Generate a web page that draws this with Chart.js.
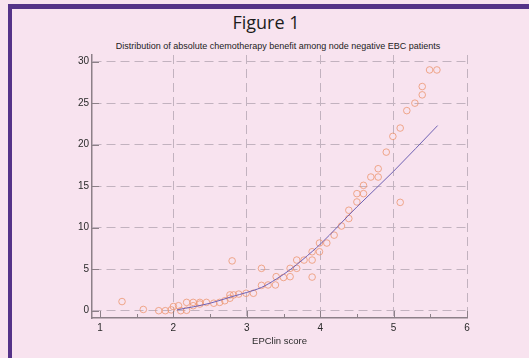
<!DOCTYPE html>
<html>
<head>
<meta charset="utf-8">
<script src="https://cdn.jsdelivr.net/npm/chart.js@4"></script>
<style>
    html, body {
        margin: 0;
        padding: 0;
        background: #f8e3ef;
        width: 529px;
        height: 358px;
        overflow: hidden;
    }
    #frame {
        position: absolute;
        left: 8px;
        top: 4px;
        right: 0;
        bottom: 0;
        border-top: 5px solid #553388;
        border-left: 4px solid #553388;
    }
    #titulo {
        position: absolute;
        left: 166px;
        width: 200px;
        top: 10px;
        text-align: center;
        font: 18px "Open Sans", sans-serif;
        color: #1c1c1c;
    }
    #subtitulo {
        position: absolute;
        left: 78px;
        width: 400px;
        top: 41px;
        text-align: center;
        font: 9px "Liberation Sans", Arial, sans-serif;
        color: #1c1c1c;
    }
    #grafico {
        position: absolute;
        left: 0;
        top: 0;
    }
</style>
</head>
<body>
<div id="frame"></div>
<div id="titulo">Figure 1</div>
<div id="subtitulo">Distribution of absolute chemotherapy benefit among node negative EBC patients</div>
<canvas id="grafico" width="529" height="358"></canvas>
<script>
// pontos observados (EPClin score, beneficio absoluto)
const pontosX = [1.30, 1.59, 1.80, 1.89, 1.97, 2.00, 2.07, 2.10, 2.18, 2.18, 2.27, 2.27, 2.36, 2.36, 2.45, 2.55, 2.63, 2.70, 2.77, 2.80, 2.77, 2.82, 2.89, 2.99, 3.09, 3.20, 3.20, 3.29, 3.39, 3.40, 3.50, 3.59, 3.59, 3.68, 3.68, 3.78, 3.89, 3.89, 3.89, 3.99, 3.99, 4.09, 4.19, 4.29, 4.39, 4.39, 4.50, 4.50, 4.59, 4.59, 4.69, 4.79, 4.79, 4.90, 4.99, 5.09, 5.09, 5.18, 5.29, 5.39, 5.39, 5.49, 5.59]
const pontosY = [1.1, 0.15, 0.0, 0.0, 0.1, 0.5, 0.6, 0.0, 0.05, 1.0, 0.6, 1.0, 0.8, 1.0, 1.0, 0.9, 1.0, 1.2, 1.5, 6.0, 1.9, 1.9, 2.0, 2.1, 2.1, 3.05, 5.1, 3.1, 3.1, 4.1, 4.0, 4.1, 5.1, 5.1, 6.1, 6.1, 6.1, 4.05, 7.1, 7.1, 8.15, 8.15, 9.1, 10.2, 11.1, 12.1, 13.1, 14.1, 14.1, 15.1, 16.1, 16.1, 17.1, 19.1, 21.0, 22.0, 13.05, 24.1, 25.0, 26.0, 27.0, 29.0, 29.0]

// curva ajustada
const curvaX = [2.05, 2.5, 2.8, 3.0, 3.2, 3.4, 3.6, 3.9, 4.0, 4.5, 5.0, 5.6]
const curvaY = [0.1, 0.9, 1.7, 2.2, 2.8, 3.8, 5.0, 7.2, 8.0, 12.5, 16.8, 22.3]

const ticksX = [1, 2, 3, 4, 5, 6]
const ticksY = [0, 5, 10, 15, 20, 25, 30]

const corEixo = '#8c8088'
const corGrade = '#c2b2bf'
const fonte = { family: '"Liberation Sans", Arial, sans-serif', size: 10 }

// marcas dos eixos para dentro da area do grafico
const marcasInternas = {
    id: 'marcasInternas',
    afterDraw(chart) {
        const { ctx, chartArea, scales } = chart
        ctx.save()
        ctx.strokeStyle = corEixo
        ctx.lineWidth = 1
        ctx.beginPath()
        ticksX.forEach(v => {
            const px = Math.round(scales.x.getPixelForValue(v)) + 0.5
            ctx.moveTo(px, chartArea.bottom)
            ctx.lineTo(px, chartArea.bottom - 7)
            if (v < 6) {
                const pm = Math.round(scales.x.getPixelForValue(v + 0.5)) + 0.5
                ctx.moveTo(pm, chartArea.bottom)
                ctx.lineTo(pm, chartArea.bottom - 4)
            }
        })
        ticksY.forEach(v => {
            const py = Math.round(scales.y.getPixelForValue(v)) + 0.5
            ctx.moveTo(chartArea.left, py)
            ctx.lineTo(chartArea.left + 7, py)
        })
        ctx.stroke()
        ctx.restore()
    }
}

new Chart(document.getElementById('grafico'), {
    type: 'scatter',
    data: {
        datasets: [{
            label: 'pacientes',
            data: pontosX.map((x, i) => ({ x: x, y: pontosY[i] })),
            pointStyle: 'circle',
            pointRadius: 3.3,
            pointBorderWidth: 1,
            pointBorderColor: 'rgba(236,150,112,0.8)',
            pointBackgroundColor: 'rgba(0,0,0,0)',
            order: 2
        }, {
            type: 'line',
            label: 'ajuste',
            data: curvaX.map((x, i) => ({ x: x, y: curvaY[i] })),
            borderColor: '#6e60b2',
            borderWidth: 1,
            pointRadius: 0,
            cubicInterpolationMode: 'monotone',
            fill: false,
            order: 1
        }]
    },
    options: {
        responsive: false,
        animation: false,
        events: [],
        layout: { padding: { left: 0, right: 62, top: 55, bottom: 11 } },
        plugins: {
            legend: { display: false },
            tooltip: { enabled: false }
        },
        scales: {
            x: {
                type: 'linear',
                min: 0.891,
                max: 6,
                afterBuildTicks: scale => { scale.ticks = ticksX.map(v => ({ value: v })) },
                afterFit: scale => { scale.height = 29 },
                ticks: { font: fonte, color: '#2a2a2a', padding: 4, maxRotation: 0 },
                grid: {
                    drawTicks: false,
                    color: ctx => ctx.tick && ctx.tick.value === 1 ? 'rgba(0,0,0,0)' : corGrade,
                    lineWidth: 1
                },
                border: { display: true, color: corEixo, width: 1.5, dash: [9, 5] },
                title: {
                    display: true,
                    text: 'EPClin score',
                    font: { family: '"Liberation Sans", Arial, sans-serif', size: 9.5 },
                    color: '#2a2a2a',
                    padding: 0
                }
            },
            y: {
                type: 'linear',
                min: -0.88,
                max: 30.8,
                afterBuildTicks: scale => { scale.ticks = ticksY.map(v => ({ value: v })) },
                afterFit: scale => { scale.width = 92 },
                ticks: { font: fonte, color: '#2a2a2a', padding: 3 },
                grid: {
                    drawTicks: false,
                    color: corGrade,
                    lineWidth: 1
                },
                border: { display: true, color: corEixo, width: 1.5, dash: [9, 5] }
            }
        }
    },
    plugins: [marcasInternas]
})
</script>
</body>
</html>
